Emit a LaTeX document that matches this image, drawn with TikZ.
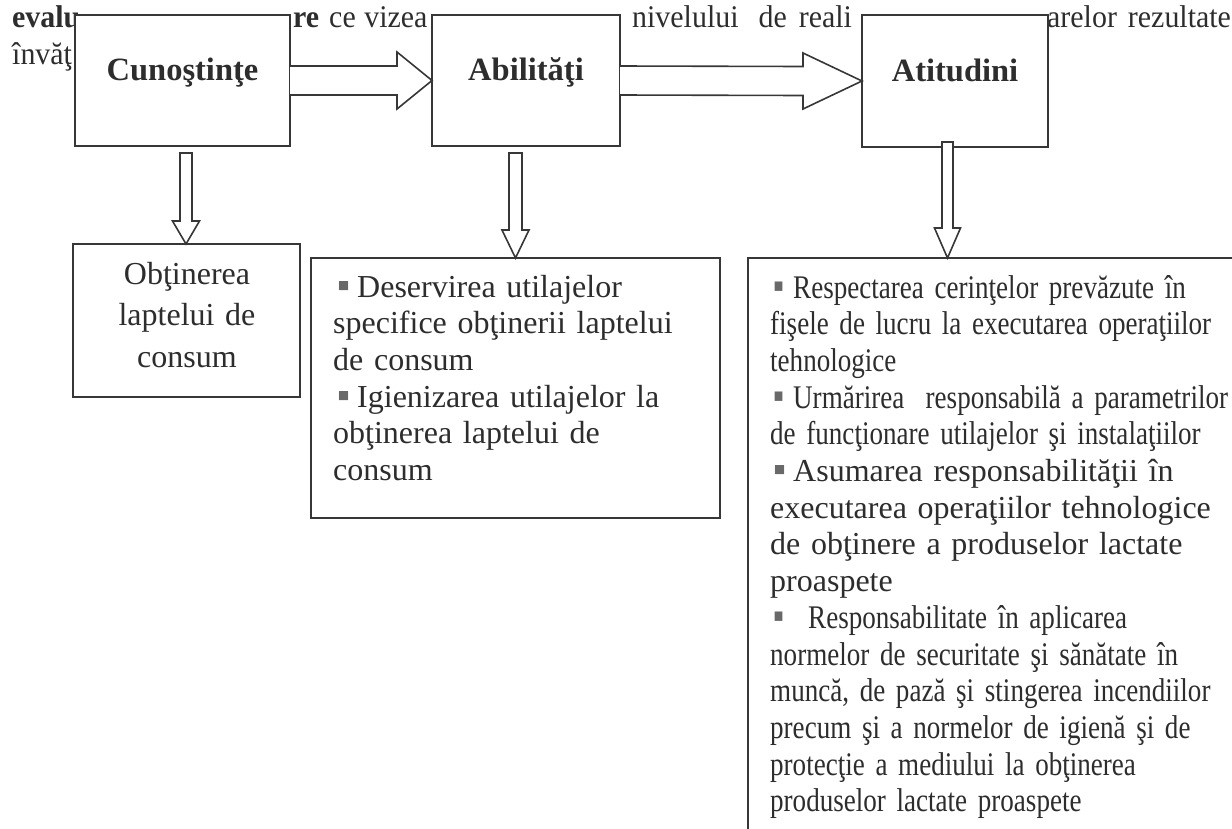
\documentclass[tikz,border=0pt]{standalone}
\usepackage{fontspec}
\usepackage{graphicx}
\setmainfont{Liberation Serif}
\newfontfamily\condf[FakeStretch=0.82]{Liberation Serif}
\newfontfamily\topf[FakeStretch=0.95]{Liberation Serif}
\usetikzlibrary{calc}
\definecolor{ink}{RGB}{45,45,45}
\definecolor{linec}{RGB}{55,55,55}
\definecolor{bulc}{RGB}{105,105,105}
\newcommand\bul[2]{\hspace*{#1}\makebox[#2][l]{\textcolor{bulc}{\scalebox{1.15}{▪}}}}
\newcommand\cnd{\condf\fontsize{33}{36.7}\selectfont}
\newcommand\wid{\rmfamily\fontsize{32}{36.7}\selectfont}
\begin{document}
\begin{tikzpicture}[x=1pt,y=-1pt,
  box/.style={draw=linec, line width=1.8pt, fill=white, outer sep=0pt, inner sep=0pt, anchor=north west},
  title/.style={font=\fontsize{32.5}{38}\selectfont\bfseries, text=ink, text height=14pt, text depth=14pt},
  txt/.style={text=ink, inner sep=0pt, anchor=base west},
  toptxt/.style={txt, font=\topf\fontsize{31.5}{37}\selectfont},
  blk/.style={draw=linec, line width=1.6pt, fill=white, line join=miter},
]
\useasboundingbox (0,0) rectangle (1232,828);
\clip (0,0) rectangle (1232,828);

% running text behind the boxes
\node[toptxt] (t1) at (12,27) {\bfseries evalu};
\node[toptxt] (t2) at (12,64) {învăţ};
\node[toptxt] (t3) at (293,27) {\textbf{re}\hspace{10pt}ce\hspace{8.5pt}vizea};
\node[toptxt] (t4) at (632,27) {nivelului\hspace{20pt}de\hspace{12pt}reali};
\node[toptxt] (t5) at (1047,27) {arelor\hspace{11pt}rezultate};

% top boxes
\node[box, title, minimum width=215pt, minimum height=131pt] (cun) at (75,15) {Cunoştinţe};
\node[box, title, minimum width=188pt, minimum height=131pt] (abi) at (432,15) {Abilităţi};
\node[box, title, minimum width=186pt, minimum height=132pt] (ati) at (862,15) {Atitudini};

% lower boxes
\node[box, minimum width=227pt, minimum height=153pt] (obt) at (73,244) {};
\node[txt, anchor=base, align=center, text width=220pt, font=\fontsize{32}{41.5}\selectfont] (obtt) at (187,284) {Obţinerea\\laptelui de\\consum};

\node[box, minimum width=409pt, minimum height=260pt] (abt) at (311,258) {};
\node[txt, text width=400pt, align=left, font=\wid] (abtt) at (333,297) {%
\lineskiplimit=-20pt\lineskip=0pt
\bul{4pt}{20pt}Deservirea utilajelor\\
specifice obţinerii laptelui\\
de consum\\
\bul{4pt}{20pt}Igienizarea utilajelor la\\
obţinerea laptelui de\\
consum};

\node[box, minimum width=520pt, minimum height=620pt] (att) at (748,258) {};
\node[txt, text width=470pt, align=left, font=\wid] (attt) at (770,298) {%
\lineskiplimit=-20pt\lineskip=0pt
{\cnd\bul{3pt}{20pt}Respectarea cerinţelor prevăzute în}\\
{\cnd fişele de lucru la executarea operaţiilor}\\
{\cnd tehnologice}\\
{\cnd\bul{3pt}{20pt}Urmărirea\ \ responsabilă a parametrilor}\\
{\cnd de funcţionare utilajelor şi instalaţiilor}\\
{\wid\bul{3pt}{20pt}Asumarea responsabilităţii în}\\
{\wid executarea operaţiilor tehnologice}\\
{\wid de obţinere a produselor lactate}\\
{\wid proaspete}\\
{\cnd\bul{3pt}{35pt}Responsabilitate în aplicarea}\\
{\cnd normelor de securitate şi sănătate în}\\
{\cnd muncă, de pază şi stingerea incendiilor}\\
{\cnd precum şi a normelor de igienă şi de}\\
{\cnd protecţie a mediului la obţinerea}\\
{\cnd produselor lactate proaspete}};

% horizontal block arrows
\draw[blk] ([yshift=14.5pt]cun.east) -- ([xshift=-35pt,yshift=14.5pt]abi.west) -- ([xshift=-35pt,yshift=28.5pt]abi.west) -- (abi.west) -- ([xshift=-35pt,yshift=-28.5pt]abi.west) -- ([xshift=-35pt,yshift=-14.5pt]abi.west) -- ([yshift=-14.5pt]cun.east);
\draw[blk] ([yshift=14.5pt]abi.east) -- ([xshift=-59pt,yshift=14.5pt]ati.west) -- ([xshift=-59pt,yshift=28pt]ati.west) -- (ati.west) -- ([xshift=-59pt,yshift=-28pt]ati.west) -- ([xshift=-59pt,yshift=-14.5pt]ati.west) -- ([yshift=-14.5pt]abi.east);

% vertical block arrows
\coordinate (d1) at ([xshift=3.5pt]cun.south);
\coordinate (e1) at (d1 |- obt.north);
\draw[blk] ([xshift=-6pt,yshift=-7pt]d1) -- ([xshift=-6pt,yshift=23pt]e1) -- ([xshift=-13.5pt,yshift=23pt]e1) -- (e1) -- ([xshift=13.5pt,yshift=23pt]e1) -- ([xshift=6pt,yshift=23pt]e1) -- ([xshift=6pt,yshift=-7pt]d1) -- cycle;

\coordinate (d2) at ([xshift=-10.5pt]abi.south);
\coordinate (e2) at (d2 |- abt.north);
\draw[blk] ([xshift=-6.5pt,yshift=-7pt]d2) -- ([xshift=-6.5pt,yshift=28pt]e2) -- ([xshift=-13.5pt,yshift=28pt]e2) -- (e2) -- ([xshift=13.5pt,yshift=28pt]e2) -- ([xshift=6.5pt,yshift=28pt]e2) -- ([xshift=6.5pt,yshift=-7pt]d2) -- cycle;

\coordinate (d3) at ([xshift=-7.5pt]ati.south);
\coordinate (e3) at (d3 |- att.north);
\draw[blk] ([xshift=-5.5pt,yshift=5pt]d3) -- ([xshift=-5.5pt,yshift=30pt]e3) -- ([xshift=-13pt,yshift=30pt]e3) -- (e3) -- ([xshift=13pt,yshift=30pt]e3) -- ([xshift=5.5pt,yshift=30pt]e3) -- ([xshift=5.5pt,yshift=5pt]d3) -- cycle;
\end{tikzpicture}
\end{document}
